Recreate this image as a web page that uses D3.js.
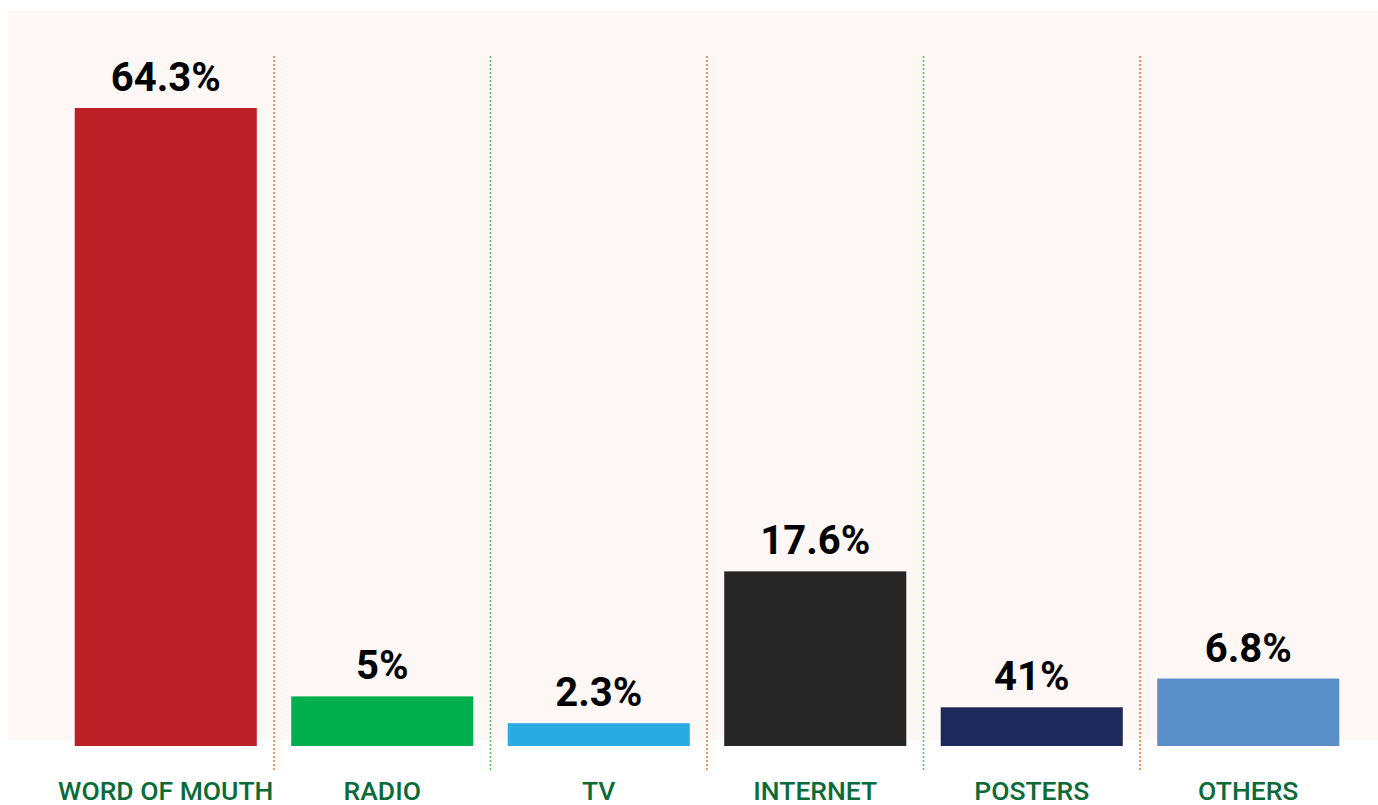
<!DOCTYPE html>
<html>
<head>
<meta charset="utf-8">
<script src="https://cdn.jsdelivr.net/npm/d3@7"></script>
<style>
  html, body { margin: 0; padding: 0; background: #ffffff; }
  svg { display: block; }
</style>
</head>
<body>
<svg id="chart" width="1378" height="805"></svg>
<script>
// ---- data ----
const categories = ["WORD OF MOUTH", "RADIO", "TV", "INTERNET", "POSTERS", "OTHERS"];
const values = [64.3, 5, 2.3, 17.6, 3.9, 6.8];
const valueLabels = ["64.3%", "5%", "2.3%", "17.6%", "41%", "6.8%"];
const barColors = ["#bc1f26", "#00b04f", "#29abe2", "#262626", "#1f285a", "#5a8ec8"];
const dividerColors = ["#f07a3a", "#5cc15c", "#f07a3a", "#5cc15c", "#f07a3a"];

// ---- layout ----
const W = 1378, H = 805;
const baseY = 746, topY = 108;
const svg = d3.select("#chart");

const x = d3.scaleBand()
  .domain(categories)
  .range([57.5, 1356.5])
  .paddingInner(0.159)
  .paddingOuter(0.0795);

const y = d3.scaleLinear()
  .domain([0, d3.max(values)])
  .range([baseY, topY]);

// background panel
svg.append("rect")
  .attr("x", 8).attr("y", 11)
  .attr("width", W - 8).attr("height", 729)
  .attr("fill", "#fdf8f5");

const data = categories.map((c, i) => ({ c, v: values[i], label: valueLabels[i], color: barColors[i] }));

// bars
svg.selectAll("rect.bar").data(data).enter().append("rect")
  .attr("class", "bar")
  .attr("x", d => x(d.c))
  .attr("y", d => y(d.v))
  .attr("width", x.bandwidth())
  .attr("height", d => baseY - y(d.v))
  .attr("fill", d => d.color);

// dividers
const step = x.step();
const gap = step - x.bandwidth();
svg.selectAll("line.div").data(categories.slice(0, -1)).enter().append("line")
  .attr("class", "div")
  .attr("x1", d => x(d) + x.bandwidth() + gap / 2)
  .attr("x2", d => x(d) + x.bandwidth() + gap / 2)
  .attr("y1", 56).attr("y2", 772)
  .attr("stroke", (d, i) => dividerColors[i])
  .attr("stroke-width", 1.6)
  .attr("stroke-dasharray", "2,2");

// value labels
svg.selectAll("text.val").data(data).enter().append("text")
  .attr("class", "val")
  .attr("x", d => x(d.c) + x.bandwidth() / 2)
  .attr("y", d => y(d.v) - 17)
  .attr("text-anchor", "middle")
  .attr("font-family", "Roboto, sans-serif")
  .attr("font-weight", 700)
  .attr("font-size", 40)
  .attr("fill", "#000000")
  .text(d => d.label);

// category labels
const xAxis = d3.axisBottom(x).tickSize(0).tickPadding(0);
const gx = svg.append("g").attr("transform", `translate(0, ${baseY})`).call(xAxis);
gx.select(".domain").remove();
gx.selectAll("text")
  .attr("y", 54)
  .attr("dy", 0)
  .attr("font-family", "Roboto, sans-serif")
  .attr("font-weight", 500)
  .attr("font-size", 26.5)
  .attr("fill", "#0b6b38");
</script>
</body>
</html>
